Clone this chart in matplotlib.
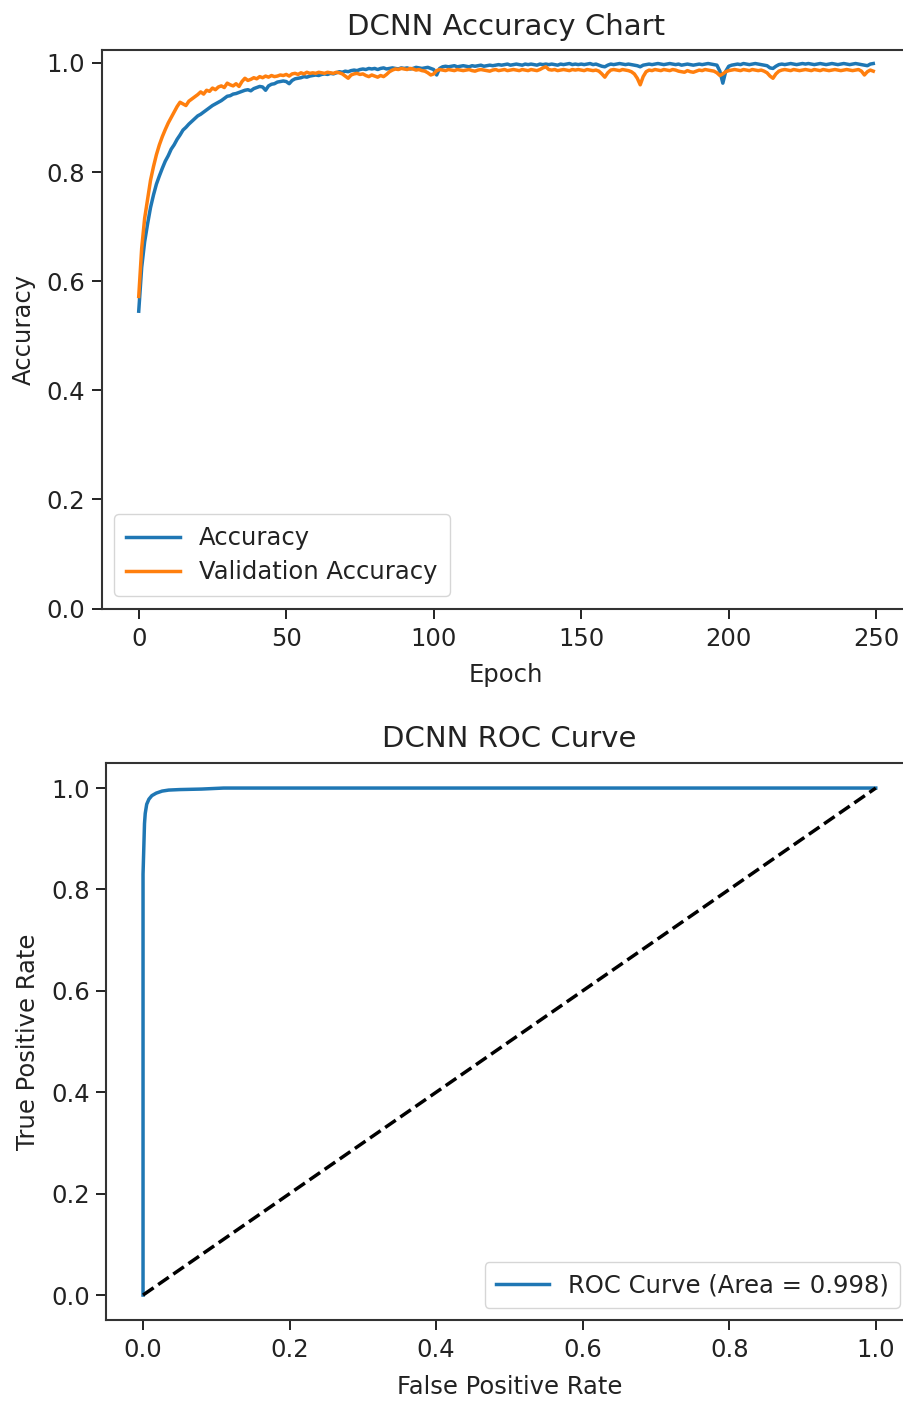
import matplotlib
matplotlib.use("Agg")
import matplotlib.pyplot as plt
import numpy as np

# ---------------- data ----------------
epochs = list(range(250))

accuracy = [
    0.545, 0.625, 0.672, 0.705, 0.735, 0.758, 0.778, 0.793, 0.807, 0.820,
    0.830, 0.842, 0.850, 0.860, 0.868, 0.877, 0.882, 0.888, 0.893, 0.898,
    0.903, 0.906, 0.910, 0.914, 0.918, 0.922, 0.925, 0.928, 0.931, 0.935,
    0.939, 0.940, 0.943, 0.944, 0.946, 0.948, 0.950, 0.951, 0.949, 0.953,
    0.955, 0.957, 0.956, 0.950, 0.958, 0.961, 0.962, 0.965, 0.966, 0.967,
    0.966, 0.962, 0.968, 0.971, 0.972, 0.973, 0.975, 0.974, 0.976, 0.977,
    0.978, 0.977, 0.979, 0.980, 0.979, 0.981, 0.980, 0.982, 0.984, 0.983,
    0.985, 0.984, 0.986, 0.987, 0.986, 0.988, 0.989, 0.988, 0.990, 0.989,
    0.990, 0.988, 0.990, 0.991, 0.989, 0.990, 0.991, 0.990, 0.989, 0.991,
    0.990, 0.991, 0.989, 0.990, 0.992, 0.991, 0.990, 0.991, 0.992, 0.990,
    0.988, 0.978, 0.990, 0.993, 0.994, 0.993, 0.994, 0.995, 0.993, 0.994,
    0.995, 0.994, 0.993, 0.995, 0.994, 0.995, 0.996, 0.994, 0.995, 0.996,
    0.995, 0.996, 0.997, 0.996, 0.997, 0.998, 0.996, 0.997, 0.998, 0.997,
    0.996, 0.998, 0.997, 0.998, 0.997, 0.996, 0.998, 0.997, 0.998, 0.997,
    0.998, 0.997, 0.996, 0.998, 0.997, 0.998, 0.999, 0.997, 0.998, 0.997,
    0.998, 0.997, 0.998, 0.999, 0.997, 0.998, 0.996, 0.994, 0.993, 0.996,
    0.998, 0.997, 0.998, 0.999, 0.998, 0.997, 0.998, 0.997, 0.996, 0.995,
    0.993, 0.996, 0.997, 0.998, 0.997, 0.998, 0.999, 0.998, 0.997, 0.998,
    0.999, 0.998, 0.997, 0.998, 0.996, 0.997, 0.998, 0.997, 0.996, 0.997,
    0.998, 0.997, 0.998, 0.999, 0.998, 0.997, 0.996, 0.985, 0.963, 0.985,
    0.994, 0.996, 0.997, 0.998, 0.997, 0.999, 0.998, 0.997, 0.998, 0.999,
    0.998, 0.997, 0.996, 0.995, 0.991, 0.990, 0.994, 0.997, 0.998, 0.997,
    0.998, 0.999, 0.998, 0.997, 0.998, 0.999, 0.998, 0.999, 0.998, 0.997,
    0.998, 0.999, 0.998, 0.997, 0.998, 0.999, 0.998, 0.997, 0.998, 0.999,
    0.998, 0.997, 0.998, 0.999, 0.998, 0.997, 0.996, 0.995, 0.998, 0.999,
]

val_accuracy = [
    0.572, 0.660, 0.715, 0.750, 0.785, 0.810, 0.832, 0.850, 0.865, 0.878,
    0.890, 0.900, 0.910, 0.920, 0.928, 0.925, 0.922, 0.930, 0.934, 0.938,
    0.942, 0.947, 0.943, 0.950, 0.948, 0.954, 0.951, 0.956, 0.958, 0.955,
    0.963, 0.960, 0.958, 0.962, 0.957, 0.966, 0.972, 0.968, 0.970, 0.973,
    0.971, 0.975, 0.973, 0.976, 0.974, 0.977, 0.975, 0.976, 0.978, 0.977,
    0.979, 0.976, 0.980, 0.981, 0.979, 0.982, 0.980, 0.983, 0.981, 0.982,
    0.981, 0.983, 0.982, 0.981, 0.983, 0.982, 0.981, 0.983, 0.982, 0.980,
    0.976, 0.972, 0.978, 0.980, 0.981, 0.979, 0.980, 0.977, 0.975, 0.978,
    0.976, 0.974, 0.977, 0.975, 0.979, 0.984, 0.987, 0.989, 0.988, 0.990,
    0.989, 0.988, 0.990, 0.989, 0.987, 0.988, 0.986, 0.985, 0.982, 0.978,
    0.980, 0.986, 0.988, 0.987, 0.986, 0.988, 0.987, 0.986, 0.988, 0.987,
    0.986, 0.987, 0.988, 0.986, 0.985, 0.987, 0.988, 0.987, 0.986, 0.985,
    0.987, 0.988, 0.986, 0.987, 0.988, 0.986, 0.987, 0.988, 0.987, 0.986,
    0.988, 0.987, 0.986, 0.988, 0.987, 0.986, 0.988, 0.991, 0.993, 0.988,
    0.987, 0.988, 0.986, 0.987, 0.988, 0.987, 0.986, 0.988, 0.987, 0.988,
    0.987, 0.986, 0.988, 0.987, 0.986, 0.987, 0.985, 0.980, 0.974, 0.982,
    0.987, 0.988, 0.987, 0.986, 0.988, 0.987, 0.986, 0.984, 0.980, 0.972,
    0.960, 0.975, 0.984, 0.987, 0.986, 0.988, 0.987, 0.986, 0.988, 0.987,
    0.986, 0.988, 0.987, 0.985, 0.984, 0.983, 0.986, 0.984, 0.983, 0.985,
    0.987, 0.986, 0.988, 0.987, 0.986, 0.985, 0.982, 0.977, 0.980, 0.984,
    0.986, 0.987, 0.988, 0.987, 0.986, 0.988, 0.987, 0.986, 0.988, 0.987,
    0.986, 0.987, 0.985, 0.982, 0.976, 0.972, 0.980, 0.985, 0.987, 0.988,
    0.987, 0.986, 0.988, 0.987, 0.986, 0.987, 0.988, 0.987, 0.986, 0.988,
    0.987, 0.986, 0.988, 0.987, 0.986, 0.987, 0.988, 0.987, 0.986, 0.987,
    0.988, 0.987, 0.986, 0.987, 0.988, 0.985, 0.978, 0.984, 0.987, 0.985,
]

fpr = [0.0, 0.0, 0.001, 0.002, 0.003, 0.005, 0.008, 0.012, 0.018, 0.026,
       0.035, 0.050, 0.080, 0.110, 0.300, 0.600, 1.0]
tpr = [0.0, 0.830, 0.880, 0.930, 0.950, 0.968, 0.978, 0.985, 0.990, 0.994,
       0.996, 0.997, 0.998, 1.0, 1.0, 1.0, 1.0]
roc_auc = 0.998

# ---------------- style ----------------
BASE = 17.5
plt.rcParams.update({
    "font.family": ["DejaVu Sans"],
    "font.size": BASE,
    "axes.linewidth": 1.5,
    "xtick.major.size": 7,
    "ytick.major.size": 7,
    "xtick.major.width": 1.4,
    "ytick.major.width": 1.4,
    "xtick.major.pad": 6,
    "ytick.major.pad": 5,
    "text.color": "#222222",
    "axes.labelcolor": "#222222",
    "xtick.color": "#222222",
    "ytick.color": "#222222",
    "axes.edgecolor": "#333333",
})

W, H = 904, 1403
fig = plt.figure(figsize=(W / 100, H / 100), dpi=100)

# top axes
ax1 = fig.add_axes([102 / W, (H - 608.5) / H, 808 / W, 558.5 / H])
ax1.plot(epochs, accuracy, color="#1f77b4", lw=2.5, label="Accuracy")
ax1.plot(epochs, val_accuracy, color="#ff7f0e", lw=2.5, label="Validation Accuracy")
ax1.set_xlim(-12.45, 261.45)
ax1.set_ylim(0, 1.0238)
ax1.set_xticks([0, 50, 100, 150, 200, 250])
ax1.set_yticks([0.0, 0.2, 0.4, 0.6, 0.8, 1.0])
ax1.set_title("DCNN Accuracy Chart", fontsize=BASE * 1.2, pad=11)
ax1.set_xlabel("Epoch", labelpad=9)
ax1.set_ylabel("Accuracy", labelpad=8)
ax1.legend(loc="lower left", fontsize=BASE, handlelength=2.2, borderpad=0.5,
           labelspacing=0.4, framealpha=0.8)

# bottom axes
ax2 = fig.add_axes([106.4 / W, (H - 1320.4) / H, 806 / W, 557.7 / H])
ax2.plot(fpr, tpr, color="#1f77b4", lw=2.5, label="ROC Curve (Area = %0.3f)" % roc_auc)
ax2.plot([0, 1], [0, 1], "k--", lw=2.5)
ax2.set_xlim(-0.05, 1.05)
ax2.set_ylim(-0.05, 1.05)
ax2.set_xticks([0.0, 0.2, 0.4, 0.6, 0.8, 1.0])
ax2.set_yticks([0.0, 0.2, 0.4, 0.6, 0.8, 1.0])
ax2.set_title("DCNN ROC Curve", fontsize=BASE * 1.2, pad=11)
ax2.set_xlabel("False Positive Rate", labelpad=9)
ax2.set_ylabel("True Positive Rate", labelpad=8)
ax2.legend(loc="lower right", fontsize=BASE, handlelength=2.2, borderpad=0.45,
           framealpha=0.8)

fig.savefig("out.png", dpi=100)
